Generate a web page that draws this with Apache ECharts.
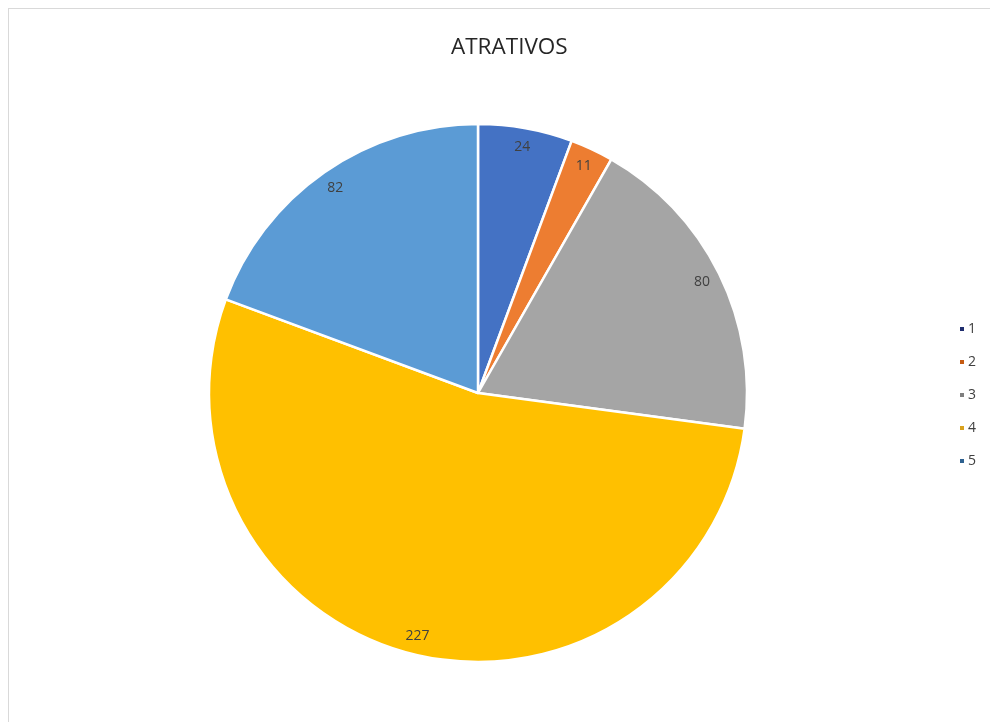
<!DOCTYPE html>
<html>
<head>
<meta charset="utf-8">
<script src="https://cdn.jsdelivr.net/npm/echarts@6/dist/echarts.min.js"></script>
<style>
html,body{margin:0;padding:0;background:#fff;}
.frame{
    position:absolute;
    left:8px;
    top:8px;
    width:990px;
    height:730px;
    border:1px solid #d9d9d9;
    box-sizing:border-box;
}
#chart{
    position:absolute;
    left:0;
    top:0;
    width:990px;
    height:722px;
}
</style>
</head>
<body>
<div class="frame"></div>
<div id="chart"></div>
<script>
// datos del gráfico
var categorias = ['1', '2', '3', '4', '5'];
var valores = [24, 11, 80, 227, 82];
var colores = ['#4472C4', '#ED7D31', '#A5A5A5', '#FFC000', '#5B9BD5'];
var coloresLeyenda = ['#1F2D6E', '#C55A11', '#7F7F7F', '#D9A21E', '#2E6190'];

var myChart = echarts.init(document.getElementById('chart'));

var datos = categorias.map(function(c, i){
    return {name: c, value: valores[i], itemStyle: {color: colores[i]}};
});

var option = {
    animation: false,
    title: {
        text: 'ATRATIVOS',
        left: 446,
        top: 31,
        textStyle: {
            color: '#262626',
            fontSize: 22.5,
            fontWeight: 'normal',
            fontFamily: 'Open Sans'
        }
    },
    legend: {
        orient: 'vertical',
        left: 953,
        top: 317,
        itemWidth: 6,
        itemHeight: 6,
        itemGap: 19,
        icon: 'rect',
        textStyle: {
            color: '#404040',
            fontSize: 14,
            fontFamily: 'Open Sans',
            padding: [0, 0, 0, -2]
        },
        data: categorias.map(function(c, i){
            return {name: c, itemStyle: {color: coloresLeyenda[i]}};
        })
    },
    series: [
        {
            type: 'pie',
            center: [478, 393],
            radius: [0, 269],
            startAngle: 90,
            clockwise: true,
            label: {show: false},
            labelLine: {show: false},
            itemStyle: {
                borderColor: '#fff',
                borderWidth: 2.5
            },
            emphasis: {disabled: true},
            data: datos
        },
        {
            // solo etiquetas, cerca del borde exterior
            type: 'pie',
            center: [478, 393],
            radius: [226, 268],
            startAngle: 90,
            clockwise: true,
            silent: true,
            legendHoverLink: false,
            itemStyle: {color: 'transparent', borderWidth: 0},
            label: {
                show: true,
                position: 'inside',
                color: '#404040',
                fontSize: 14,
                fontFamily: 'Open Sans',
                formatter: '{c}'
            },
            labelLine: {show: false},
            emphasis: {disabled: true},
            data: categorias.map(function(c, i){
                return {name: c, value: valores[i]};
            })
        }
    ]
};

myChart.setOption(option, true);
</script>
</body>
</html>
